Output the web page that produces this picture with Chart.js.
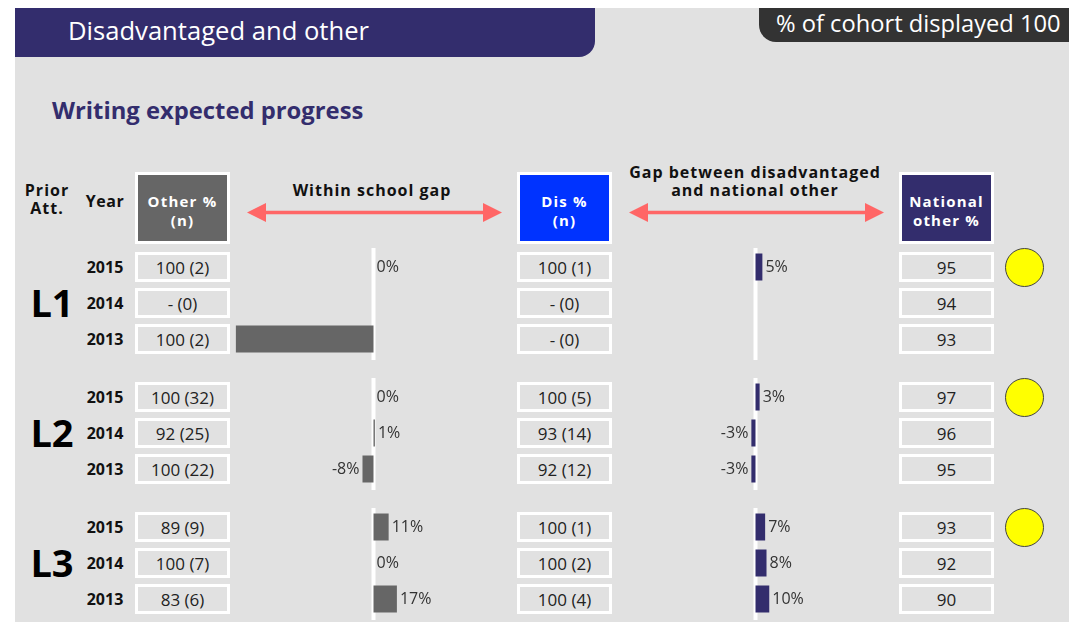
<!DOCTYPE html>
<html><head><meta charset="utf-8">
<script src="https://cdn.jsdelivr.net/npm/chart.js@4.4.1/dist/chart.umd.min.js"></script>
<style>
html,body{margin:0;padding:0;background:#fff;}
#root{position:relative;width:1069px;height:622px;overflow:hidden;font-family:"Open Sans",sans-serif;}
.a{position:absolute;white-space:nowrap;line-height:1;}
.c{transform:translate(-50%,-50%);text-align:center;}
.box{position:absolute;box-sizing:border-box;border:3px solid #fff;display:flex;align-items:center;justify-content:center;color:#222;font-size:17px;}
.hbox{position:absolute;box-sizing:border-box;border:3px solid #fff;color:#fff;font-weight:700;font-size:15px;letter-spacing:1.2px;line-height:19px;text-align:center;display:flex;align-items:center;justify-content:center;padding-top:6px;}
</style></head>
<body><div id="root"></div>
<script>
// ---- data ----
const groups = ['L1', 'L2', 'L3'];
const years = ['2015', '2014', '2013'];
const otherPct = [[100, null, 100], [100, 92, 100], [89, 100, 83]];
const otherN = [[2, 0, 2], [32, 25, 22], [9, 7, 6]];
const disPct = [[100, null, null], [100, 93, 92], [100, 100, 100]];
const disN = [[1, 0, 0], [5, 14, 12], [1, 2, 4]];
const nationalOther = [[95, 94, 93], [97, 96, 95], [93, 92, 90]];
const withinGap = [[0, null, -100], [0, 1, -8], [11, 0, 17]];
const nationalGap = [[5, null, null], [3, -3, -3], [7, 8, 10]];
const flagged = [true, true, true];

// ---- layout ----
const root = document.getElementById('root');
const PURPLE = '#332d6d';
const groupTop = [267, 397, 527];
const RS = 36;

function el(tag, cls, css, html) {
  const e = document.createElement(tag);
  if (cls) e.className = cls;
  if (css) e.style.cssText = css;
  if (html !== undefined) e.innerHTML = html;
  root.appendChild(e);
  return e;
}
function txt(s, x, y, css) { return el('div', 'a c', `left:${x}px;top:${y}px;` + (css || ''), s); }

// panel and banners
el('div', 'a', 'left:15px;top:8px;width:1054px;height:614px;background:#e1e1e1;');
el('div', 'a', `left:15px;top:8px;width:580px;height:49px;background:${PURPLE};border-bottom-right-radius:16px;`);
el('div', 'a', 'left:68px;top:31px;transform:translateY(-50%);color:#fff;font-size:25.6px;', 'Disadvantaged and other');
el('div', 'a', 'left:759px;top:8px;width:310px;height:34px;background:#333;border-bottom-left-radius:17px;');
el('div', 'a', 'left:776px;top:24px;transform:translateY(-50%);color:#fff;font-size:23.7px;', '% of cohort displayed 100');
el('div', 'a', `left:52px;top:111px;transform:translateY(-50%);color:${PURPLE};font-size:23.8px;font-weight:700;`, 'Writing expected progress');

// column headers
const HD = 'font-weight:700;font-size:16px;letter-spacing:1px;color:#111;';
txt('Prior', 47, 190, HD);
txt('Att.', 47, 208, HD);
txt('Year', 105, 201, 'font-weight:700;font-size:16px;letter-spacing:0.5px;color:#111;');
el('div', 'hbox', 'left:135px;top:172px;width:95px;height:72px;background:#666;', 'Other %<br>(n)');
el('div', 'hbox', 'left:517px;top:172px;width:95px;height:72px;background:#0033ff;', 'Dis %<br>(n)');
el('div', 'hbox', `left:899px;top:172px;width:95px;height:72px;background:${PURPLE};`, 'National<br>other %');
txt('Within school gap', 372, 190, HD);
txt('Gap between disadvantaged', 755, 172, HD);
txt('and national other', 755, 190, HD);

// arrows
const svgNS = 'http://www.w3.org/2000/svg';
const svg = document.createElementNS(svgNS, 'svg');
svg.setAttribute('width', 1069); svg.setAttribute('height', 622);
svg.style.cssText = 'position:absolute;left:0;top:0;pointer-events:none;';
root.appendChild(svg);
function arrow(x1, x2, y) {
  const col = '#ff6666', hl = 19, hh = 9.5;
  const ln = document.createElementNS(svgNS, 'line');
  ln.setAttribute('x1', x1 + hl - 2); ln.setAttribute('x2', x2 - hl + 2);
  ln.setAttribute('y1', y); ln.setAttribute('y2', y);
  ln.setAttribute('stroke', col); ln.setAttribute('stroke-width', 3.5);
  svg.appendChild(ln);
  [[x1, x1 + hl], [x2, x2 - hl]].forEach(([tip, base]) => {
    const p = document.createElementNS(svgNS, 'polygon');
    p.setAttribute('points', `${tip},${y} ${base},${y - hh} ${base},${y + hh}`);
    p.setAttribute('fill', col);
    svg.appendChild(p);
  });
}
arrow(247, 502, 212.5);
arrow(629, 884, 212.5);

// rows
const fmt = (p, n) => (p == null ? '-' : p) + ' (' + n + ')';
groups.forEach((g, gi) => {
  const c0 = groupTop[gi];
  txt(g, 52, c0 + RS - 1, 'font-weight:700;font-size:38px;color:#000;');
  years.forEach((y, ri) => {
    const c = c0 + ri * RS;
    txt(y, 105, c - 0.5, 'font-weight:700;font-size:16px;color:#111;');
    el('div', 'box', `left:135px;top:${c - 15}px;width:95px;height:30px;`, fmt(otherPct[gi][ri], otherN[gi][ri]));
    el('div', 'box', `left:517px;top:${c - 15}px;width:95px;height:30px;`, fmt(disPct[gi][ri], disN[gi][ri]));
    el('div', 'box', `left:899px;top:${c - 15}px;width:95px;height:30px;`, nationalOther[gi][ri]);
  });
  if (flagged[gi]) {
    el('div', 'a', `left:${1024 - 19.5}px;top:${c0 - 19.5}px;width:39px;height:39px;box-sizing:border-box;border-radius:50%;background:#ffff00;border:1.5px solid #444;`);
  }
});

// ---- charts ----
const zeroLine = {
  id: 'zeroLine',
  beforeDatasetsDraw(chart) {
    const x = chart.scales.x.getPixelForValue(0);
    const ctx = chart.ctx;
    ctx.save(); ctx.fillStyle = '#ffffff';
    ctx.fillRect(x - 2, 0, 4, chart.height);
    ctx.restore();
  }
};
function labelPlugin(show) {
  return {
    id: 'valLabels',
    afterDatasetsDraw(chart) {
      const ctx = chart.ctx, meta = chart.getDatasetMeta(0), vals = chart.data.datasets[0].data;
      ctx.save();
      ctx.font = '16px "Open Sans"'; ctx.fillStyle = '#333'; ctx.textBaseline = 'middle';
      meta.data.forEach((bar, i) => {
        const v = vals[i];
        if (v == null || !show[i]) return;
        if (v < 0) { ctx.textAlign = 'right'; ctx.fillText(v + '%', bar.x - 3, bar.y); }
        else { ctx.textAlign = 'left'; ctx.fillText(v + '%', bar.x + 3, bar.y); }
      });
      ctx.restore();
    }
  };
}
function makeChart(left, top, values, color, show) {
  const cv = document.createElement('canvas');
  cv.width = 289; cv.height = 112;
  cv.style.cssText = `position:absolute;left:${left}px;top:${top}px;width:289px;height:112px;`;
  root.appendChild(cv);
  new Chart(cv, {
    type: 'bar',
    data: { labels: years, datasets: [{ data: values, backgroundColor: color, barThickness: 27, borderWidth: 0, inflateAmount: 0 }] },
    options: {
      indexAxis: 'y', responsive: false, animation: false, events: [],
      layout: { padding: { top: 1, bottom: 3, left: 0, right: 0 } },
      scales: { x: { display: false, min: -105, max: 105 }, y: { display: false } },
      plugins: { legend: { display: false }, tooltip: { enabled: false } }
    },
    plugins: [zeroLine, labelPlugin(show)]
  });
}
groups.forEach((g, gi) => {
  const top = groupTop[gi] - 19;
  makeChart(229, top, withinGap[gi], '#666666', disN[gi].map(n => n > 0));
  makeChart(611, top, nationalGap[gi], PURPLE, nationalGap[gi].map(v => v != null));
});
</script></body></html>
